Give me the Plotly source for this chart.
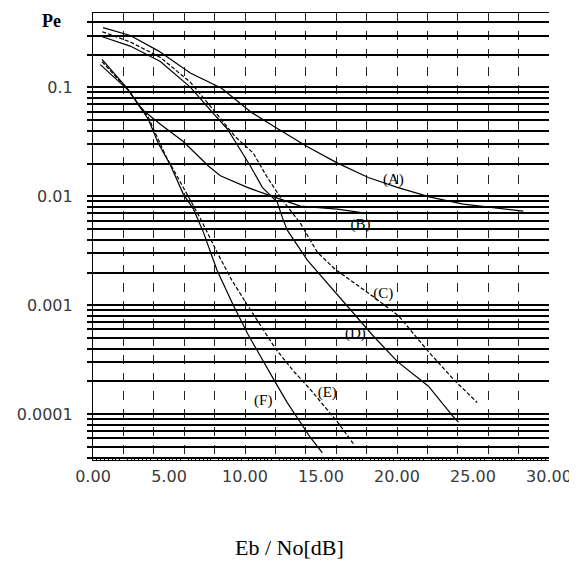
import math
import plotly.graph_objects as go

# ---- data (Eb/No in dB, Pe) ----
x_A = [0.66, 2.45, 4.30, 6.40, 8.46, 10.43, 11.86, 14.08, 16.09, 18.11, 20.02, 22.19, 24.36, 28.31]
y_A = [0.355, 0.300, 0.217, 0.136, 0.0986, 0.059, 0.0443, 0.0287, 0.0202, 0.0149, 0.0121, 0.00986, 0.0085, 0.00732]

x_B = [0.48, 2.32, 3.24, 4.43, 5.94, 7.59, 8.38, 10.15, 12.13, 13.64, 16.07, 17.91]
y_B = [0.162, 0.0946, 0.0627, 0.0460, 0.0319, 0.0190, 0.0155, 0.0121, 0.00964, 0.00815, 0.00764, 0.00702]

x_C = [0.61, 2.45, 4.43, 6.40, 7.91, 8.70, 9.36, 10.55, 11.47, 12.32, 13.64, 14.76, 15.94, 18.24, 20.09, 22.06, 23.70, 25.28]
y_C = [0.325, 0.262, 0.189, 0.112, 0.0626, 0.0460, 0.0353, 0.0249, 0.0149, 0.00986, 0.00568, 0.00307, 0.00214,
       0.00126, 0.000805, 0.000377, 0.000210, 0.000128]

x_D = [0.61, 2.45, 4.43, 6.40, 7.91, 8.38, 8.84, 9.56, 10.35, 11.14, 12.12, 12.45, 12.78, 14.10, 16.07, 18.38, 20.03, 22.07, 23.72, 24.05]
y_D = [0.292, 0.240, 0.173, 0.1007, 0.0578, 0.0490, 0.0416, 0.0287, 0.0190, 0.0121, 0.00887, 0.00645, 0.00490,
       0.00260, 0.00126, 0.000534, 0.000304, 0.000181, 0.0000943, 0.0000846]

x_E = [0.59, 2.32, 3.64, 4.76, 6.18, 7.09, 8.16, 9.10, 10.09, 11.01, 11.99, 13.18, 14.30, 15.41, 16.14, 17.13]
y_E = [0.173, 0.0946, 0.0532, 0.0239, 0.0105, 0.00618, 0.00308, 0.00173, 0.00104, 0.000662, 0.000403, 0.000250,
       0.000169, 0.000110, 0.0000830, 0.0000536]

x_F = [0.59, 2.24, 3.64, 4.30, 5.09, 5.94, 6.61, 7.26, 8.16, 9.23, 10.22, 11.20, 11.99, 12.78, 13.64, 14.30, 15.09]
y_F = [0.181, 0.0986, 0.0511, 0.0306, 0.0194, 0.0105, 0.00764, 0.00470, 0.00210, 0.00100, 0.000534, 0.000304,
       0.000197, 0.000128, 0.0000830, 0.0000612, 0.0000442]

curve_names = ["(A)", "(B)", "(C)", "(D)", "(E)", "(F)"]
label_x = [19.76, 17.6, 19.1, 17.26, 15.41, 11.2]
label_y = [0.0140, 0.00545, 0.00126, 0.000546, 0.000155, 0.000131]

x_tick_vals = [0, 5, 10, 15, 20, 25, 30]
x_tick_text = ["0.00", "5.00", "10.00", "15.00", "20.00", "25.00", "30.00"]
y_decades = [0.0001, 0.001, 0.01, 0.1]
y_decade_text = ["0.0001", "0.001", "0.01", "0.1"]

# ---- figure ----
series = [(x_A, y_A, "solid"), (x_B, y_B, "solid"), (x_C, y_C, "4px,2px"),
          (x_D, y_D, "solid"), (x_E, y_E, "4px,2px"), (x_F, y_F, "solid")]

fig = go.Figure()
for xs, ys, dash in series:
    fig.add_trace(go.Scatter(x=xs, y=ys, mode="lines", showlegend=False, hoverinfo="skip",
                             line=dict(color="black", width=1.2, dash=dash)))

fig.add_trace(go.Scatter(x=label_x, y=label_y, text=curve_names, mode="text", xaxis="x2",
                         showlegend=False, hoverinfo="skip",
                         textfont=dict(family="Liberation Serif", size=15, color="black")))

# horizontal grid values 1..9 x 10^n
y_grid, y_grid_text = [], []
for n in range(-5, 0):
    for k in range(1, 10):
        v = round(k * 10 ** n, 8)
        if 3.8e-5 <= v <= 0.483:
            y_grid.append(v)
            y_grid_text.append(y_decade_text[y_decades.index(v)] if v in y_decades else "")

tickfont = dict(family="DejaVu Sans", size=16, color="#3a3a3a")
fig.update_layout(
    width=569, height=561,
    margin=dict(l=85, r=28, t=5, b=109),
    paper_bgcolor="white", plot_bgcolor="white",
    xaxis=dict(range=[0, 30], tickmode="linear", tick0=0, dtick=2, showticklabels=False,
               showgrid=True, gridcolor="#222222", gridwidth=1, griddash="dash",
               ticks="", zeroline=False, showline=True, linecolor="black", linewidth=1.2, mirror=True,
               minor=dict(tick0=0, dtick=0.25, ticks="inside", ticklen=3, tickcolor="black",
                          tickwidth=1, showgrid=False)),
    xaxis2=dict(overlaying="x", anchor="y", side="bottom", range=[0, 30],
                tickmode="array", tickvals=x_tick_vals, ticktext=x_tick_text,
                showgrid=False, zeroline=False, showline=False, ticks="",
                tickfont=tickfont, ticklabelstandoff=5),
    yaxis=dict(type="log", range=[math.log10(3.8e-5), math.log10(0.483)],
               tickmode="array", tickvals=y_grid, ticktext=y_grid_text,
               showgrid=True, gridcolor="black", gridwidth=1.5,
               ticks="outside", ticklen=5, tickcolor="black", tickwidth=1.5,
               zeroline=False, showline=True, linecolor="black", linewidth=1.2,
               tickfont=tickfont, ticklabelstandoff=11),
    annotations=[
        dict(text="<b>Pe</b>", xref="paper", yref="paper", x=-0.09, y=1.009, xanchor="center", yanchor="top",
             showarrow=False, font=dict(family="Liberation Serif", size=18, color="black")),
        dict(text="Eb / No[dB]", xref="paper", yref="paper", x=0.43, y=-0.195, xanchor="center",
             yanchor="middle", showarrow=False, font=dict(family="Liberation Serif", size=22, color="black")),
    ],
)

fig.write_html("out.html")
